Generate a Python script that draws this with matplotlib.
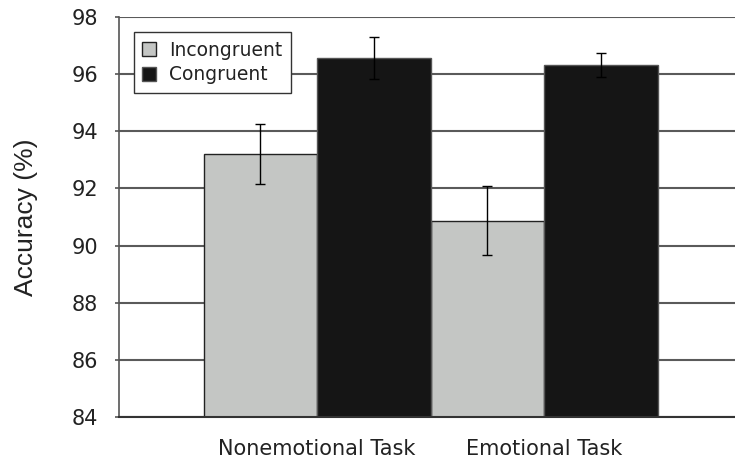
# --- accuracy by task and congruency ---
import matplotlib.pyplot as plt
import numpy as np

tasks = ['Nonemotional Task', 'Emotional Task']
incongruent = [93.2, 90.87]
incongruent_err = [1.05, 1.2]
congruent = [96.56, 96.32]
congruent_err = [0.73, 0.42]
yticks = [84, 86, 88, 90, 92, 94, 96, 98]

x = np.arange(len(tasks))
w = 0.5

fig = plt.figure(figsize=(7.35, 4.59), dpi=100)
ax = fig.add_axes([0.162, 0.0915, 0.838, 0.8715])

# grid behind the bars
ax.set_axisbelow(True)
ax.yaxis.grid(True, color='#5a5a5a', linewidth=1.5)

err_kw = dict(ecolor='black', elinewidth=1, capsize=3.5, capthick=1)
ax.bar(x - w/2, incongruent, w, yerr=incongruent_err, color='#c4c6c4',
       edgecolor='#222222', linewidth=1, label='Incongruent', error_kw=err_kw, zorder=2)
ax.bar(x + w/2, congruent, w, yerr=congruent_err, color='#151515',
       edgecolor='#555555', linewidth=1, label='Congruent', error_kw=err_kw, zorder=2)

ax.set_ylim(84, 98)
ax.set_xlim(-0.872, 1.841)
ax.set_yticks(yticks)
ax.set_xticks(x)
ax.set_xticklabels(tasks)
ax.tick_params(axis='x', length=0, pad=16, labelsize=15, labelcolor='#222222')
ax.tick_params(axis='y', length=3, width=1.2, color='#555555', labelsize=15,
               pad=12, labelcolor='#222222')

for s in ['top', 'right']:
    ax.spines[s].set_visible(False)
ax.spines['left'].set_color('#555555')
ax.spines['left'].set_linewidth(1.2)
ax.spines['bottom'].set_color('#333333')
ax.spines['bottom'].set_linewidth(1.5)

ax.set_ylabel('Accuracy (%)', fontsize=19, family='Liberation Sans', labelpad=24,
              color='#222222')

leg = ax.legend(loc='upper left', bbox_to_anchor=(0.024, 0.962), borderaxespad=0,
                fontsize=13.5, fancybox=False, framealpha=1, edgecolor='#333333',
                handlelength=0.75, handleheight=0.75, handletextpad=0.7,
                borderpad=0.45, labelspacing=0.3)
leg.get_frame().set_linewidth(1)
for t in leg.get_texts():
    t.set_color('#222222')

fig.savefig('out.png', dpi=100)
